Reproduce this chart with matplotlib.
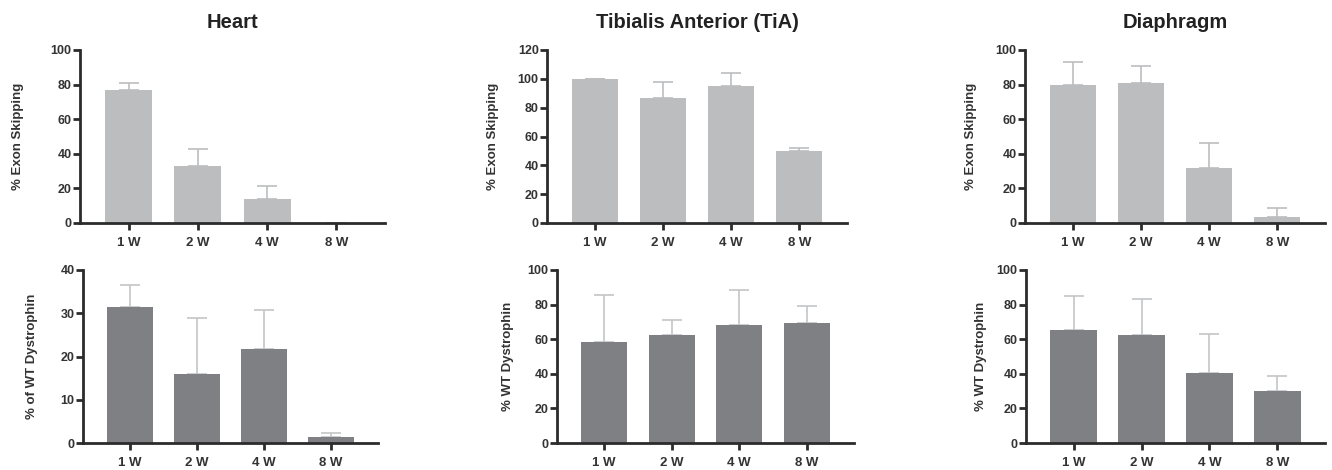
import matplotlib
matplotlib.use("Agg")
import matplotlib.pyplot as plt
import numpy as np

plt.rcParams['font.family'] = ['Liberation Sans', 'DejaVu Sans']
plt.rcParams['font.weight'] = 'bold'

weeks = ['1 W', '2 W', '4 W', '8 W']
tissues = ['Heart', 'Tibialis Anterior (TiA)', 'Diaphragm']

# top row: % exon skipping (mean, upper error)
skip_heart = [77, 33, 14, 0]
skip_heart_err = [4, 10, 7.5, 0]
skip_tia = [100, 87, 95, 50]
skip_tia_err = [0, 11, 9, 2]
skip_dia = [80, 81, 32, 3.5]
skip_dia_err = [13, 10, 14.5, 5]

# bottom row: % WT dystrophin
dys_heart = [31.5, 16, 21.7, 1.3]
dys_heart_err = [5, 13, 9.1, 1]
dys_tia = [58.5, 62.5, 68, 69.5]
dys_tia_err = [27, 8.5, 20.5, 9.5]
dys_dia = [65.5, 62.5, 40.5, 30]
dys_dia_err = [19.5, 20.5, 22.5, 9]

top_data = [(skip_heart, skip_heart_err), (skip_tia, skip_tia_err), (skip_dia, skip_dia_err)]
bot_data = [(dys_heart, dys_heart_err), (dys_tia, dys_tia_err), (dys_dia, dys_dia_err)]
top_ylim = [100, 120, 100]
bot_ylim = [40, 100, 100]
bot_ylabels = ['% of WT Dystrophin', '% WT Dystrophin', '% WT Dystrophin']

W, H = 1332, 470
fig = plt.figure(figsize=(W / 100, H / 100), dpi=100)

top_left = [80, 547, 1025]
bot_left = [83, 557, 1026]
top_w = [305, 300, 300]
bot_w = [295, 297, 299]
# right edge of the rotated y labels, in pixels
ylab_top_x = [24, 499, 977]
ylab_bot_x = [38, 514, 987]

spine_c = '#2b2b2b'
text_c = '#333333'


def style(ax, ymax, step):
    for s in ['top', 'right']:
        ax.spines[s].set_visible(False)
    for s in ['left', 'bottom']:
        ax.spines[s].set_linewidth(2)
        ax.spines[s].set_color(spine_c)
    ax.set_ylim(0, ymax)
    ax.set_xlim(-0.7, 3.7)
    ax.set_yticks(np.arange(0, ymax + 1, step))
    ax.set_xticks(range(4))
    ax.set_xticklabels(weeks)
    ax.tick_params(direction='out', length=5, width=2, color=spine_c,
                   labelcolor=text_c)
    ax.tick_params(axis='x', labelsize=9.5, pad=5)
    ax.tick_params(axis='y', labelsize=9, pad=1)


x = np.arange(4)
for i in range(3):
    # top row
    ax = fig.add_axes([top_left[i] / W, 1 - 223 / H, top_w[i] / W, 173 / H])
    vals, err = top_data[i]
    ax.bar(x, vals, width=0.68, color='#bcbdbf', zorder=2)
    ax.errorbar(x, vals, yerr=[np.zeros(4), err], fmt='none', ecolor='#bcbdbf',
                elinewidth=1.2, capsize=7, capthick=1.2, zorder=1)
    style(ax, top_ylim[i], 20)
    ax.set_title(tissues[i], fontsize=14.5, fontweight='bold', color='#222222', pad=16)
    ax.set_ylabel('% Exon Skipping', fontsize=9.5, fontweight='bold', color=text_c)
    ax.yaxis.set_label_coords((ylab_top_x[i] - top_left[i]) / top_w[i], 0.5)

    # bottom row
    ax = fig.add_axes([bot_left[i] / W, 1 - 443 / H, bot_w[i] / W, 173 / H])
    vals, err = bot_data[i]
    ax.bar(x, vals, width=0.68, color='#7f8083', zorder=2)
    ax.errorbar(x, vals, yerr=[np.zeros(4), err], fmt='none', ecolor='#c4c5c7',
                elinewidth=1.2, capsize=7, capthick=1.2, zorder=1)
    style(ax, bot_ylim[i], 10 if bot_ylim[i] == 40 else 20)
    ax.set_ylabel(bot_ylabels[i], fontsize=9.5, fontweight='bold', color=text_c)
    ax.yaxis.set_label_coords((ylab_bot_x[i] - bot_left[i]) / bot_w[i], 0.5)

fig.savefig('out.png', dpi=100)
